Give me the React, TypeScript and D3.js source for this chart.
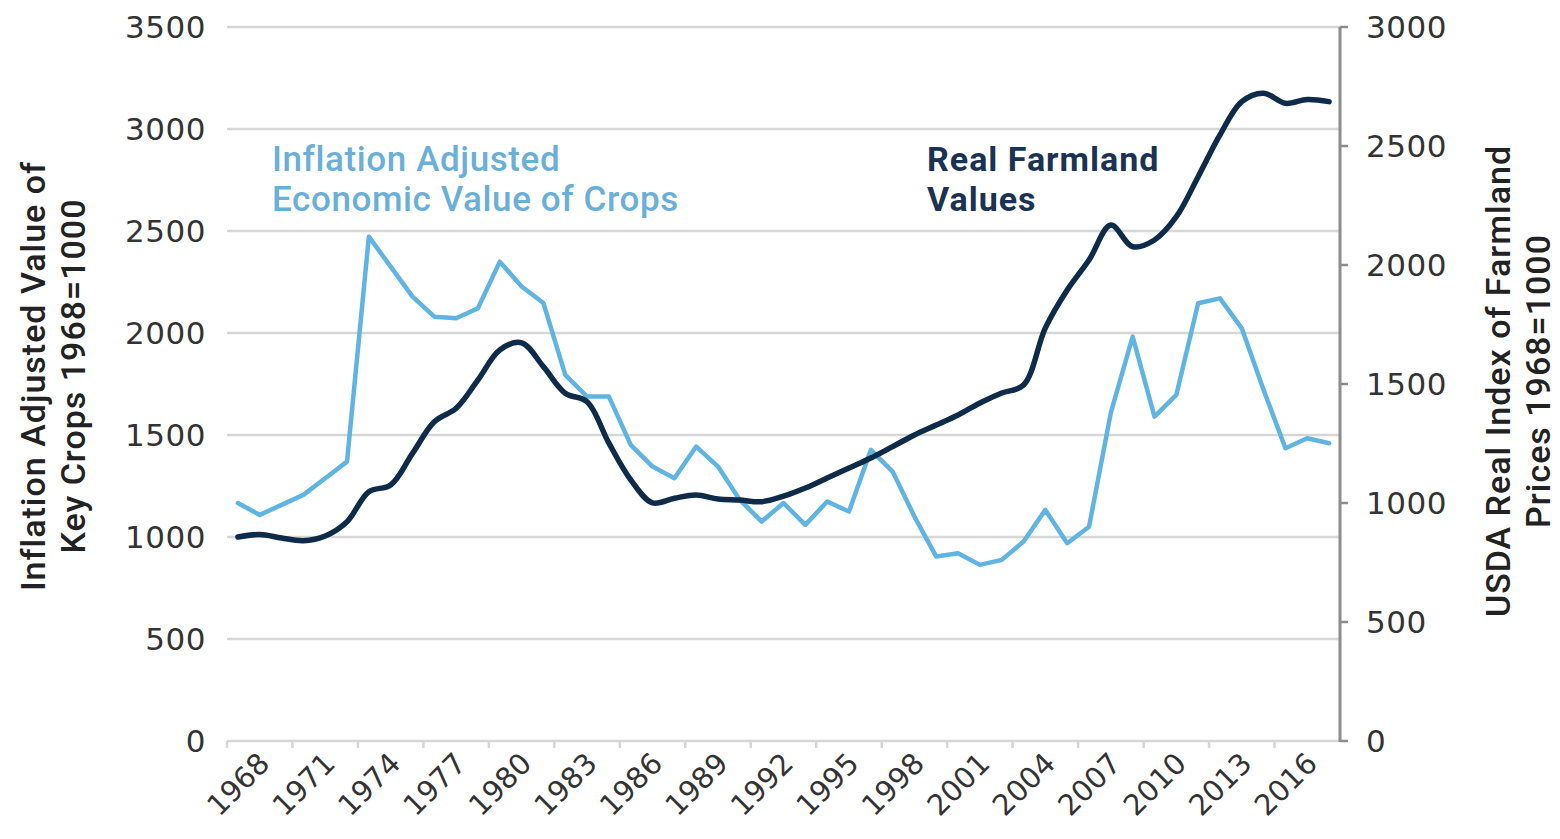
import React from 'react';
import { line, curveCatmullRom, curveLinear, scaleBand, scaleLinear } from 'd3';

const years = [
  '1968', '1969', '1970', '1971', '1972', '1973', '1974', '1975', '1976', '1977',
  '1978', '1979', '1980', '1981', '1982', '1983', '1984', '1985', '1986', '1987',
  '1988', '1989', '1990', '1991', '1992', '1993', '1994', '1995', '1996', '1997',
  '1998', '1999', '2000', '2001', '2002', '2003', '2004', '2005', '2006', '2007',
  '2008', '2009', '2010', '2011', '2012', '2013', '2014', '2015', '2016', '2017',
  '2018',
];

// dark series, read on the left axis
const farmland = [
  1000, 1012, 995, 982, 1005, 1075, 1222, 1255, 1410, 1565,
  1631, 1770, 1917, 1952, 1835, 1705, 1663, 1460, 1280, 1167,
  1190, 1206, 1186, 1181, 1173, 1200, 1240, 1289, 1338, 1387,
  1443, 1500, 1549, 1598, 1657, 1706, 1745, 2025, 2211, 2358,
  2529, 2423, 2456, 2570, 2766, 2971, 3134, 3175, 3126, 3145,
  3134,
];

// light series, read on the right axis
const crops = [
  1000, 950, 992, 1034, 1104, 1174, 2119, 1993, 1867, 1783,
  1776, 1818, 2014, 1910, 1840, 1538, 1447, 1447, 1244, 1153,
  1104, 1237, 1153, 1013, 922, 1000, 908, 1006, 964, 1223,
  1132, 943, 775, 789, 740, 761, 838, 971, 831, 900,
  1380, 1699, 1363, 1454, 1839, 1860, 1734, 1475, 1230, 1272,
  1251,
];

const leftTicks = [0, 500, 1000, 1500, 2000, 2500, 3000, 3500];
const rightTicks = [0, 500, 1000, 1500, 2000, 2500, 3000];
const labelYears = ['1968', '1971', '1974', '1977', '1980', '1983', '1986', '1989', '1992', '1995', '1998', '2001', '2004', '2007', '2010', '2013', '2016'];

const DARK = '#0f2b4a';
const LIGHT = '#5fb4e2';
const GRID = '#d6d6d6';
const NUM_FONT = '"DejaVu Sans", sans-serif';
const TXT_FONT = 'Roboto, sans-serif';

export default function App() {
  const left = 227;
  const right = 1340;
  const top = 27;
  const bottom = 741;

  const x = scaleBand().domain(years).range([left, right]).padding(0);
  const bw = x.bandwidth();
  const cx = (d: string) => (x(d) ?? 0) + bw / 2;
  const yL = scaleLinear().domain([0, 3500]).range([bottom, top]);
  const yR = scaleLinear().domain([0, 3000]).range([bottom, top]);

  const darkPath = line<number>()
    .x((_, i) => cx(years[i]))
    .y((d) => yL(d))
    .curve(curveCatmullRom.alpha(0.5))(farmland);
  const lightPath = line<number>()
    .x((_, i) => cx(years[i]))
    .y((d) => yR(d))
    .curve(curveLinear)(crops);

  const tickXs = years.filter((_, i) => i % 3 === 0).map((d) => x(d) ?? 0);

  return (
    <div style={{ position: 'absolute', left: 0, top: 0 }}>
      <svg width={1560} height={839} style={{ display: 'block', background: '#fff' }}>
        {/* grid */}
        {leftTicks.map((t) => (
          <line key={`g-${t}`} x1={left} x2={right} y1={yL(t)} y2={yL(t)} stroke={GRID} strokeWidth={2.5} />
        ))}
        {/* bottom ticks */}
        {tickXs.map((tx, i) => (
          <line key={`bt-${i}`} x1={tx} x2={tx} y1={bottom} y2={bottom + 7} stroke={GRID} strokeWidth={2.5} />
        ))}
        {/* left tick labels */}
        {leftTicks.map((t) => (
          <text key={`l-${t}`} x={206} y={yL(t)} dy="0.36em" textAnchor="end" fontFamily={NUM_FONT} fontSize={31} fill="#333" letterSpacing={0.5}>
            {t}
          </text>
        ))}
        {/* right axis */}
        <line x1={right} x2={right} y1={top} y2={bottom + 1} stroke="#8c8c8c" strokeWidth={3} />
        {rightTicks.map((t) => (
          <g key={`r-${t}`}>
            <line x1={right} x2={right + 8} y1={yR(t)} y2={yR(t)} stroke="#8c8c8c" strokeWidth={2.5} />
            <text x={1366} y={yR(t)} dy="0.36em" fontFamily={NUM_FONT} fontSize={31} fill="#333" letterSpacing={0.5}>
              {t}
            </text>
          </g>
        ))}
        {/* x labels */}
        {labelYears.map((d) => (
          <text
            key={`x-${d}`}
            transform={`translate(${cx(d)}, 784) rotate(-45)`}
            textAnchor="middle"
            dy="0.36em"
            fontFamily={NUM_FONT}
            fontSize={29}
            fill="#333"
          >
            {d}
          </text>
        ))}
        {/* lines */}
        <path d={lightPath ?? ''} fill="none" stroke={LIGHT} strokeWidth={4.5} strokeLinejoin="round" strokeLinecap="round" />
        <path d={darkPath ?? ''} fill="none" stroke={DARK} strokeWidth={5.5} strokeLinejoin="round" strokeLinecap="round" />
        {/* series labels */}
        <text fontFamily={TXT_FONT} fontWeight={500} fontSize={35} fill="#6aafd8" letterSpacing={0.6}>
          <tspan x={272} y={171}>Inflation Adjusted</tspan>
          <tspan x={272} y={211}>Economic Value of Crops</tspan>
        </text>
        <text fontFamily={TXT_FONT} fontWeight={700} fontSize={34} fill="#1a3352" letterSpacing={1}>
          <tspan x={927} y={171}>Real Farmland</tspan>
          <tspan x={927} y={211}>Values</tspan>
        </text>
        {/* axis titles */}
        <text transform="translate(0, 376) rotate(-90)" textAnchor="middle" fontFamily={TXT_FONT} fontWeight={500} fontSize={34} fill="#222" letterSpacing={1}>
          <tspan x={0} y={45}>Inflation Adjusted Value of</tspan>
          <tspan x={0} y={85}>Key Crops 1968=1000</tspan>
        </text>
        <text transform="translate(1470, 381) rotate(-90)" textAnchor="middle" fontFamily={TXT_FONT} fontWeight={500} fontSize={34} fill="#222" letterSpacing={1}>
          <tspan x={0} y={40}>USDA Real Index of Farmland</tspan>
          <tspan x={0} y={80}>Prices 1968=1000</tspan>
        </text>
      </svg>
    </div>
  );
}
